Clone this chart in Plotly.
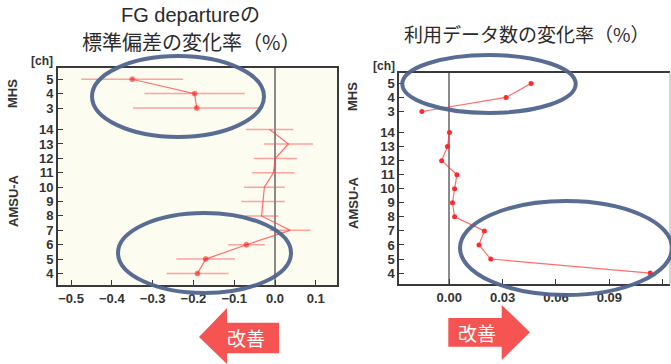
import plotly.graph_objects as go

W, H = 671, 364

# ---------------- data ----------------
amsu_channels = [4, 5, 6, 7, 8, 9, 10, 11, 12, 13, 14]
mhs_channels = [3, 4, 5]

# FG departure std-dev change rate (%)
fg_amsu = [-0.190, -0.170, -0.070, 0.037, -0.033, -0.029, -0.026, -0.004, 0.001, 0.033, -0.013]
fg_amsu_err = [0.076, 0.072, 0.045, 0.050, 0.041, 0.053, 0.050, 0.052, 0.053, 0.060, 0.058]
fg_amsu_sig = [True, True, True, False, False, False, False, False, False, False, False]
fg_mhs = [-0.192, -0.197, -0.350]
fg_mhs_err = [0.156, 0.123, 0.125]
fg_mhs_sig = [True, True, True]

# used-data count change rate (%)
num_amsu = [0.113, 0.0233, 0.0167, 0.0197, 0.0030, 0.0018, 0.0030, 0.0043, -0.0043, -0.0010, 0.0001]
num_mhs = [-0.0154, 0.0319, 0.0460]

fg_xticks = [-0.5, -0.4, -0.3, -0.2, -0.1, 0.0, 0.1]
num_xticks = [0.00, 0.03, 0.06, 0.09, 0.12]

# ---------------- helpers ----------------
MHS_OFFSET = 12.5
def ypos_amsu(chs):
    return [c for c in chs]
def ypos_mhs(chs):
    return [c + MHS_OFFSET for c in chs]

ytickvals = ypos_amsu(amsu_channels) + ypos_mhs(mhs_channels)
yticktext = [str(c) for c in amsu_channels] + [str(c) for c in mhs_channels]

def px(x):
    return x / W
def py(y):
    return 1 - y / H

RED = "#ff2a2a"
LINE_RED = "rgba(255,60,60,0.75)"
ERR_RED = "rgba(255,90,90,0.55)"
AX = "#3a3a3a"
TXT = "#333333"
tickfont = dict(family="Liberation Sans, Arial, sans-serif", size=13, color=TXT, weight="bold")

fig = go.Figure()

# left panel traces
fig.add_trace(go.Scatter(
    x=fg_amsu, y=ypos_amsu(amsu_channels), mode="lines+markers",
    line=dict(color=LINE_RED, width=1.2),
    marker=dict(color=RED, size=[5 if s else 0 for s in fg_amsu_sig]),
    error_x=dict(type="data", array=fg_amsu_err, color=ERR_RED, thickness=1.5, width=0),
    xaxis="x", yaxis="y", showlegend=False))
fig.add_trace(go.Scatter(
    x=fg_mhs, y=ypos_mhs(mhs_channels), mode="lines+markers",
    line=dict(color=LINE_RED, width=1.2),
    marker=dict(color=RED, size=[5 if s else 0 for s in fg_mhs_sig]),
    error_x=dict(type="data", array=fg_mhs_err, color=ERR_RED, thickness=1.5, width=0),
    xaxis="x", yaxis="y", showlegend=False))

# right panel traces
fig.add_trace(go.Scatter(
    x=num_amsu, y=ypos_amsu(amsu_channels), mode="lines+markers",
    line=dict(color=LINE_RED, width=1.2), marker=dict(color=RED, size=5),
    xaxis="x2", yaxis="y2", showlegend=False))
fig.add_trace(go.Scatter(
    x=num_mhs, y=ypos_mhs(mhs_channels), mode="lines+markers",
    line=dict(color=LINE_RED, width=1.2), marker=dict(color=RED, size=5),
    xaxis="x2", yaxis="y2", showlegend=False))

L_X0, L_X1, L_YT, L_YB = 58, 337, 68.3, 285
R_X0, R_X1, R_YT, R_YB = 399.3, 670, 72.7, 284.3
YRANGE = [3.2, 18.26]

common_x = dict(showgrid=False, ticks="inside", ticklen=5, tickwidth=1.2, tickcolor=AX,
                showline=True, linecolor=AX, linewidth=2, tickfont=tickfont,
                zeroline=True, zerolinecolor="#8a8a8a", zerolinewidth=1.5)
common_y = dict(showgrid=False, ticks="inside", ticklen=5, tickwidth=1.2, tickcolor=AX,
                showline=True, linecolor=AX, linewidth=2, tickfont=tickfont,
                zeroline=False, tickmode="array", tickvals=ytickvals, ticktext=yticktext,
                range=YRANGE)

fig.update_layout(
    width=W, height=H, autosize=False,
    margin=dict(l=0, r=0, t=0, b=0, pad=0),
    paper_bgcolor="white", plot_bgcolor="white",
    xaxis=dict(common_x, domain=[px(L_X0), px(L_X1)], range=[-0.532, 0.152],
               tickvals=fg_xticks, tickformat=".1f", mirror=True, anchor="y"),
    yaxis=dict(common_y, domain=[py(L_YB), py(L_YT)], mirror=True, anchor="x"),
    xaxis2=dict(common_x, domain=[px(R_X0), px(R_X1)], range=[-0.0281, 0.1241],
                tickvals=num_xticks, tickformat=".2f", mirror=True, anchor="y2"),
    yaxis2=dict(common_y, domain=[py(R_YB), py(R_YT)], mirror=False, anchor="x2"),
)

shapes = []
# cream background for left panel
shapes.append(dict(type="rect", xref="paper", yref="paper", layer="below",
                   x0=px(L_X0), x1=px(L_X1), y0=py(L_YB), y1=py(L_YT),
                   fillcolor="#fdfcf0", line=dict(width=0)))
# light right border of right panel
shapes.append(dict(type="line", xref="paper", yref="paper",
                   x0=px(R_X1), x1=px(R_X1), y0=py(R_YB), y1=py(R_YT),
                   line=dict(color="#c8c8c8", width=1.5)))

# ellipses (highlight annotations)
ELL = "rgba(80,100,142,0.95)"
for (cx, cy, rx, ry) in [(178, 96.5, 86, 40.5), (204.5, 253, 86.5, 40),
                         (489, 84, 86.7, 29), (566, 248, 106, 47)]:
    shapes.append(dict(type="circle", xref="paper", yref="paper",
                       x0=px(cx - rx), x1=px(cx + rx), y0=py(cy + ry), y1=py(cy - ry),
                       line=dict(color=ELL, width=4)))

# arrows
ARROW = "#f65353"
def path(points):
    return "M " + " L ".join(f"{px(a):.5f},{py(b):.5f}" for a, b in points) + " Z"
left_arrow = [(199, 337), (227, 308), (227, 322.7), (279, 322.7), (279, 353.3), (227, 353.3), (227, 364)]
right_arrow = [(448.3, 318), (501.7, 318), (501.7, 305), (530, 332.3), (501.7, 360), (501.7, 346.7), (448.3, 346.7)]
for pts in (left_arrow, right_arrow):
    shapes.append(dict(type="path", xref="paper", yref="paper", path=path(pts),
                       fillcolor=ARROW, line=dict(width=0)))
fig.update_layout(shapes=shapes)

ann = []
jp = "Noto Sans CJK JP"
def add_text(x, y, text, size, color=TXT, family=jp, angle=0, weight="normal"):
    ann.append(dict(xref="paper", yref="paper", x=px(x), y=py(y), text=text,
                    showarrow=False, xanchor="center", yanchor="middle", textangle=angle,
                    font=dict(family=family, size=size, color=color, weight=weight)))

lab = "Liberation Sans, Arial, sans-serif"
TITLE = "#2a2a2a"
add_text(191, 15.5, "FG departureの", 20, color=TITLE, family="Liberation Sans, Noto Sans CJK JP")
add_text(191, 41.5, "標準偏差の変化率（%）", 20, color=TITLE)
add_text(527, 33, "利用データ数の変化率（%）", 19, color=TITLE)

add_text(13, 94, "MHS", 13, family=lab, angle=-90, weight="bold")
add_text(13, 201, "AMSU-A", 13, family=lab, angle=-90, weight="bold")
add_text(353, 97, "MHS", 13, family=lab, angle=-90, weight="bold")
add_text(353, 203, "AMSU-A", 13, family=lab, angle=-90, weight="bold")
add_text(41.5, 61, "[ch]", 12, family=lab, weight="bold")
add_text(383.5, 66, "[ch]", 12, family=lab, weight="bold")

add_text(246, 337.5, "改善", 19, color="white")
add_text(477, 332, "改善", 19, color="white")

fig.update_layout(annotations=ann)

fig.write_html("out.html", config={"displayModeBar": False},
               post_script="document.body.style.margin='0';")
